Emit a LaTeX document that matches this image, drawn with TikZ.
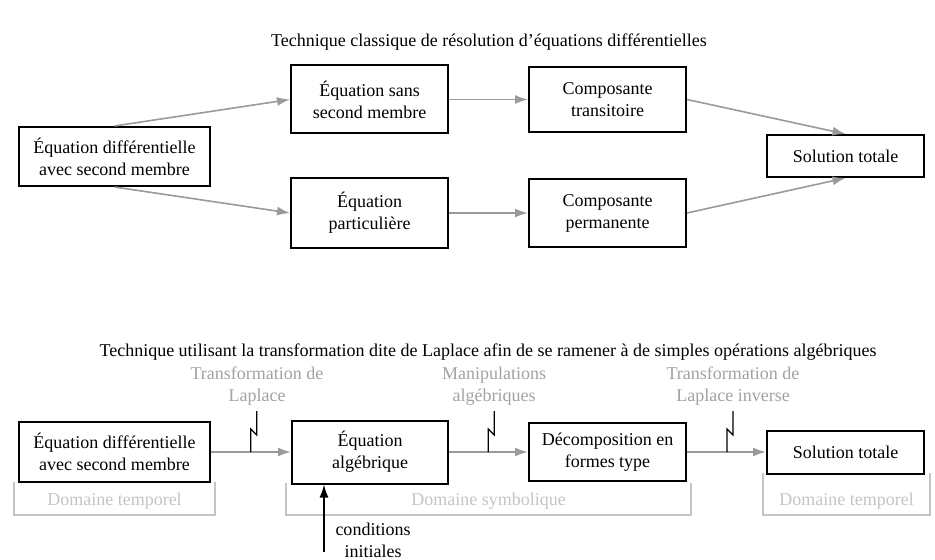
\documentclass[tikz,border=0pt]{standalone}
\usepackage{fontspec}
\setmainfont{Liberation Serif}
\usetikzlibrary{arrows.meta}
\definecolor{fleche}{HTML}{9A9A9A}
\definecolor{operation}{HTML}{A2A2A2}
\definecolor{domaine}{HTML}{C4C4C4}
\tikzstyle{bloc} = [draw, line width=1pt, align=center, inner sep=0pt, font=\fontsize{9}{11}\selectfont]
\tikzstyle{titre} = [align=center, font=\fontsize{9}{11}\selectfont]
\tikzstyle{liaison} = [draw=fleche, line width=0.8pt, -{Latex[length=6.5pt,width=4.5pt]}]
\tikzstyle{eclair} = [draw=black, line width=0.6pt]
\tikzstyle{operationtxt} = [align=center, text=operation, font=\fontsize{9}{11}\selectfont]
\tikzstyle{domainetxt} = [text=domaine, font=\fontsize{9}{11}\selectfont]
\tikzstyle{crochet} = [draw=domaine, line width=0.8pt]

\begin{document}
\begin{tikzpicture}[x=0.5pt, y=-0.5pt]
\useasboundingbox (0,0) rectangle (935,560);

% methode classique
\node (titreA) [titre] at (489,42) {Technique classique de résolution d’équations différentielles};

\node (edA) [bloc, minimum width=95.5pt, minimum height=29.5pt] at (114.5,156.5) {Équation différentielle\\avec second membre};
\node (essm) [bloc, minimum width=78.5pt, minimum height=34pt] at (369.5,99.5) {Équation sans\\second membre};
\node (epart) [bloc, minimum width=78.5pt, minimum height=35pt] at (369.5,213) {Équation\\particulière};
\node (ctrans) [bloc, minimum width=78.5pt, minimum height=32.5pt] at (607.5,99.5) {Composante\\transitoire};
\node (cperm) [bloc, minimum width=78.5pt, minimum height=34pt] at (607.5,213) {Composante\\permanente};
\node (solA) [bloc, minimum width=78.5pt, minimum height=21pt] at (845.5,156) {Solution totale};

\draw[liaison] (edA.north) -- (essm.west);
\draw[liaison] (edA.south) -- (epart.west);
\draw[liaison] (essm.east) -- (ctrans.west);
\draw[liaison] (epart.east) -- (cperm.west);
\draw[liaison] (ctrans.east) -- (solA.north);
\draw[liaison] (cperm.east) -- (solA.south);

% methode de Laplace
\node (titreB) [titre] at (488,352) {Technique utilisant la transformation dite de Laplace afin de se ramener à de simples opérations algébriques};

\node (edB) [bloc, minimum width=95.5pt, minimum height=30pt] at (114.5,452) {Équation différentielle\\avec second membre};
\node (ealg) [bloc, minimum width=78pt, minimum height=31.5pt] at (370,452) {Équation\\algébrique};
\node (decomp) [bloc, minimum width=78.5pt, minimum height=29pt] at (607.5,452) {Décomposition en\\formes type};
\node (solB) [bloc, minimum width=78.5pt, minimum height=21.5pt] at (845.5,452) {Solution totale};

\draw[liaison] (edB.east) -- (ealg.west);
\draw[liaison] (ealg.east) -- (decomp.west);
\draw[liaison] (decomp.east) -- (solB.west);

\node (opA) [operationtxt] at (257,386) {Transformation de\\Laplace};
\node (opB) [operationtxt] at (494,386) {Manipulations\\algébriques};
\node (opC) [operationtxt] at (733,386) {Transformation de\\Laplace inverse};

\coordinate (tA) at (250.7,452);
\coordinate (tB) at (488.3,452);
\coordinate (tC) at (727,452);
\foreach \t in {tA,tB,tC}
  \draw[eclair] (\t) -- ++(0,-23) -- ++(6,6) -- ++(0,-24);

% domaines
\draw[crochet] (14,482) |- (215,515) -- (215,482);
\node (domA) [domainetxt] at (114.5,501) {Domaine temporel};
\draw[crochet] (286,483) |- (691,515) -- (691,483);
\node (domB) [domainetxt] at (488.5,501) {Domaine symbolique};
\draw[crochet] (763,473) |- (930,515) -- (930,473);
\node (domC) [domainetxt] at (846.5,501) {Domaine temporel};

\coordinate (ci) at (324,552);
\draw[line width=0.8pt, -{Latex[length=6.5pt,width=4.5pt]}] (ci) -- (ci |- ealg.south);
\node (cinit) [titre] at (373,540) {conditions\\initiales};

\end{tikzpicture}
\end{document}
